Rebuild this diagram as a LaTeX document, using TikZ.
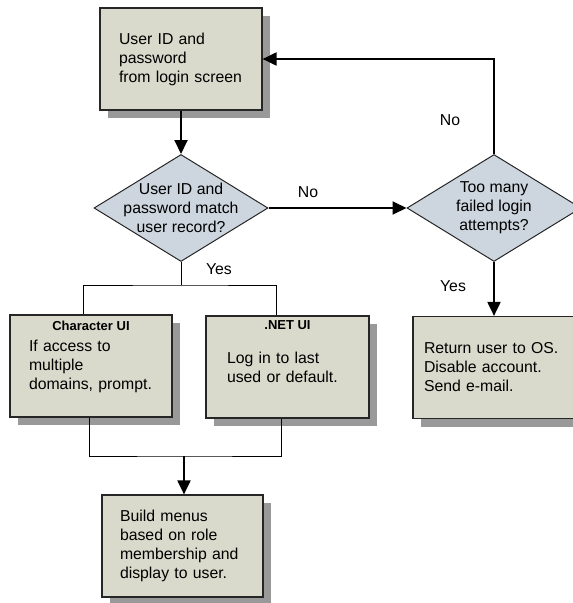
\documentclass[tikz,border=0pt]{standalone}
\usepackage{fontspec}
\setmainfont{Liberation Sans}
\usetikzlibrary{shapes.geometric,shadows,arrows.meta,calc}
\definecolor{boxfill}{RGB}{217,218,203}
\definecolor{askfill}{RGB}{205,213,222}
\definecolor{shadowgray}{RGB}{153,153,153}
\newcommand{\flowfont}{\fontsize{15.8pt}{19pt}\selectfont}
\tikzstyle{stepbox}=[rectangle,draw=black!85,line width=1.2pt,fill=boxfill,minimum height=102pt,text width=124pt,inner xsep=19pt,inner ysep=0pt,align=left,font=\flowfont,drop shadow={shadow xshift=8pt,shadow yshift=-8pt,fill=shadowgray,opacity=1}]
\tikzstyle{decision}=[diamond,draw=black!85,line width=1pt,fill=askfill,minimum width=174pt,minimum height=107pt,inner sep=0pt,aspect=1.6]
\tikzstyle{asktext}=[align=center,font=\flowfont,inner sep=0pt]
\tikzstyle{boxtitle}=[font=\bfseries\fontsize{13pt}{15pt}\selectfont,inner sep=0pt]
\tikzstyle{flow}=[draw,line width=2pt,-{Triangle[length=14pt,width=13pt]}]
\tikzstyle{link}=[draw,line width=1pt]
\tikzstyle{weight}=[font=\flowfont,inner sep=0pt]
\begin{document}
\begin{tikzpicture}[x=1pt,y=-1pt]
    \useasboundingbox (0,0) rectangle (573,603);

    \node[stepbox] (login) at (181,59) {User ID and\\password\\from login screen};
    \node[decision] (match) at (181,208) {};
    \node[asktext] (matchq) at (match) {User ID and\\password match\\user record?};
    \node[decision] (attempts) at (494,208) {};
    \node[asktext] (attemptsq) at (attempts) {Too many\\failed login\\attempts?};

    \node[stepbox] (char) at (91,366) {If access to\\multiple\\domains, prompt.};
    \node[boxtitle] (chartitle) at ($(char.north)+(0,11)$) {Character UI};
    \node[stepbox,inner xsep=21pt,text width=121pt] (net) at (287.5,367) {Log in to last\\used or default.};
    \node[boxtitle] (nettitle) at ($(net.north)+(0,10)$) {.NET UI};
    \node[stepbox,inner xsep=11pt,text width=140pt] (lockout) at (494,367.5) {Return user to OS.\\Disable account.\\Send e-mail.};
    \node[stepbox,inner xsep=18pt,text width=125pt] (menus) at (182.5,546) {Build menus\\based on role\\membership and\\display to user.};

    % main flow
    \draw[flow] (login) -- (match);
    \draw[flow] (match) -- (attempts);
    \draw[flow] (attempts.north) |- (login.east);
    \draw[flow] (attempts) -- (lockout);

    % split to the two UIs and join again
    \coordinate (yesbar) at (181,285);
    \draw[link] (match.south) -- (yesbar);
    \draw[link] ([xshift=-8pt]char.north) |- (yesbar) -| ([xshift=-11.5pt]net.north);
    \coordinate (menusbar) at (184,456);
    \draw[link] ([xshift=-2pt]char.south) |- (menusbar) -| ([xshift=-6.5pt]net.south);
    \draw[flow] (menusbar) -- (menusbar |- menus.north);

    \foreach \pos/\name/\label in {{(308,192)/nomatchlbl/No},{(450,120)/retrylbl/No},{(453,286)/lockyes/Yes},{(219,269)/matchyes/Yes}}
        \node[weight] (\name) at \pos {\label};
\end{tikzpicture}
\end{document}
